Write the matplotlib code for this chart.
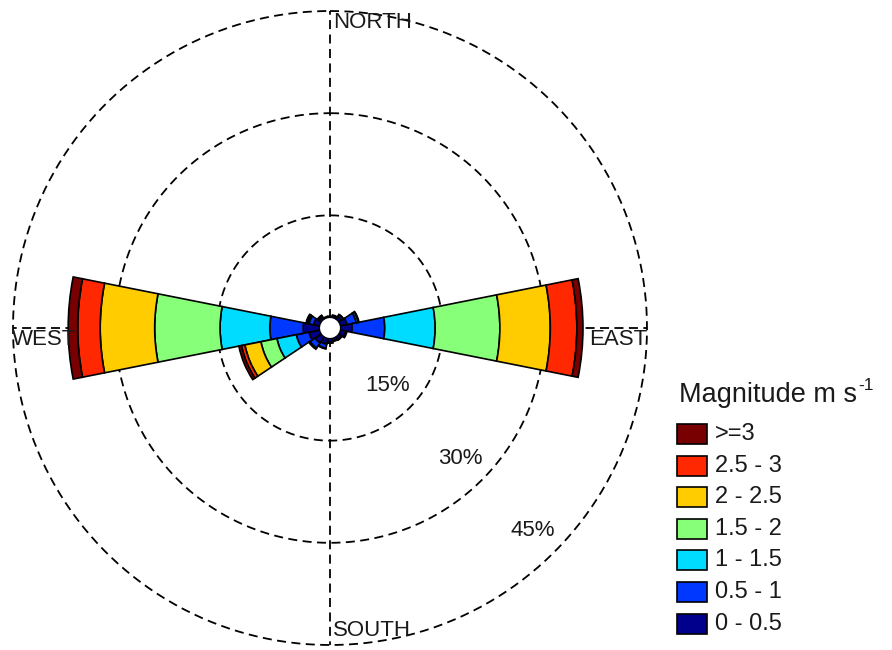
import numpy as np
import matplotlib
matplotlib.use('Agg')
import matplotlib.pyplot as plt
from matplotlib.patches import Rectangle

plt.rcParams['font.family'] = ['Liberation Sans', 'DejaVu Sans']

# 16 compass sectors, degrees clockwise from north (N, NNE, ..., NNW)
sectors = np.arange(16) * 22.5

speed_labels = ['0 - 0.5', '0.5 - 1', '1 - 1.5', '1.5 - 2', '2 - 2.5', '2.5 - 3', '>=3']
speed_colors = ['#00008c', '#0038ff', '#00dcff', '#88ff78', '#ffcc00', '#ff2800', '#780000']

# frequency (%) of each speed class in every sector
f_0_05  = [0.2, 0.3, 0.5, 1.0, 1.7, 0.8, 0.5, 0.4, 0.5, 0.9, 1.1, 1.6, 2.4, 0.9, 0.4, 0.2]
f_05_1  = [0.0, 0.1, 0.3, 1.4, 4.8, 0.2, 0.1, 0.1, 0.2, 0.6, 0.9, 1.9, 4.9, 0.7, 0.2, 0.0]
f_1_15  = [0.0, 0.0, 0.05, 0.3, 7.4, 0.0, 0.0, 0.0, 0.0, 0.1, 0.2, 2.9, 7.3, 0.2, 0.1, 0.0]
f_15_2  = [0.0, 0.0, 0.0, 0.1, 9.5, 0.0, 0.0, 0.0, 0.0, 0.0, 0.0, 2.4, 9.6, 0.05, 0.0, 0.0]
f_2_25  = [0.0, 0.0, 0.0, 0.0, 7.4, 0.0, 0.0, 0.0, 0.0, 0.0, 0.0, 2.4, 8.0, 0.1, 0.0, 0.0]
f_25_3  = [0.0, 0.0, 0.0, 0.0, 3.9, 0.0, 0.0, 0.0, 0.0, 0.0, 0.0, 0.5, 3.3, 0.0, 0.0, 0.0]
f_3_up  = [0.0, 0.0, 0.0, 0.0, 0.9, 0.0, 0.0, 0.0, 0.0, 0.0, 0.0, 0.4, 1.4, 0.1, 0.0, 0.0]
freqs = [f_0_05, f_05_1, f_1_15, f_15_2, f_2_25, f_25_3, f_3_up]

ring_levels = [15, 30, 45]
ring_labels = ['15%', '30%', '45%']

fig = plt.figure(figsize=(8.92, 6.5), dpi=100)
ax = fig.add_axes([13 / 892, 5 / 650, 634 / 892, 634 / 650], projection='polar')
ax.set_theta_zero_location('N')
ax.set_theta_direction(-1)
ax.set_rorigin(-1.54)          # hollow centre
ax.set_ylim(0, 45)
ax.grid(False)
ax.set_xticks([])
ax.set_yticks([])
for sp in ax.spines.values():
    sp.set_visible(False)

# dashed rings and axes cross
dash = (0, (5, 3))
t = np.linspace(0, 2 * np.pi, 400)
for lev in ring_levels:
    ax.plot(t, np.full_like(t, lev), color='k', lw=1.3, ls=dash,
            zorder=1, clip_on=False)
for ang in [0, 90, 180, 270]:
    ax.plot([np.radians(ang)] * 2, [0, 45], color='k', lw=1.3,
            ls=dash, zorder=1, clip_on=False)

# stacked sectors
theta = np.radians(sectors)
width = np.radians(22.5)
bottom = np.zeros(len(sectors))
for vals, col in zip(freqs, speed_colors):
    vals = np.asarray(vals)
    m = vals > 0
    ax.bar(theta[m], vals[m], width=width, bottom=bottom[m], color=col,
           edgecolor='k', linewidth=1.2, align='center', zorder=3)
    bottom += vals

# compass labels
lbl = dict(fontsize=16, color='#1a1a1a', textcoords='offset pixels',
           zorder=5, annotation_clip=False)
ax.annotate('NORTH', xy=(0, 45), xytext=(3, -1), ha='left', va='top', **lbl)
ax.annotate('SOUTH', xy=(np.pi, 45), xytext=(3, 4), ha='left', va='bottom', **lbl)
ax.annotate('WEST', xy=(1.5 * np.pi, 45), xytext=(-1, -1), ha='left', va='top', **lbl)
ax.annotate('EAST', xy=(0.5 * np.pi, 45), xytext=(0, -1), ha='right', va='top', **lbl)

for lev, txt in zip(ring_levels, ring_labels):
    ax.text(np.radians(135), lev - 4.5, txt, ha='center', va='center',
            fontsize=16, color='#1a1a1a', zorder=5)

# legend, laid out in pixel units
lax = fig.add_axes([0, 0, 1, 1])
lax.set_xlim(0, 892)
lax.set_ylim(650, 0)
lax.axis('off')
title = lax.text(679, 402, 'Magnitude m s', fontsize=19.5, color='#1a1a1a',
                 ha='left', va='baseline')
bb = title.get_window_extent(renderer=fig.canvas.get_renderer())
lax.text(bb.x1 + 1, 390, '-1', fontsize=12.5, color='#1a1a1a',
         ha='left', va='baseline')
for i, (lab, col) in enumerate(zip(speed_labels[::-1], speed_colors[::-1])):
    y0 = 424 + i * 31.6
    lax.add_patch(Rectangle((677, y0), 30, 20, facecolor=col, edgecolor='k', lw=1.2))
    lax.text(715, y0 + 10, lab, fontsize=17, color='#1a1a1a', ha='left', va='center')

fig.savefig('out.png', dpi=100)
